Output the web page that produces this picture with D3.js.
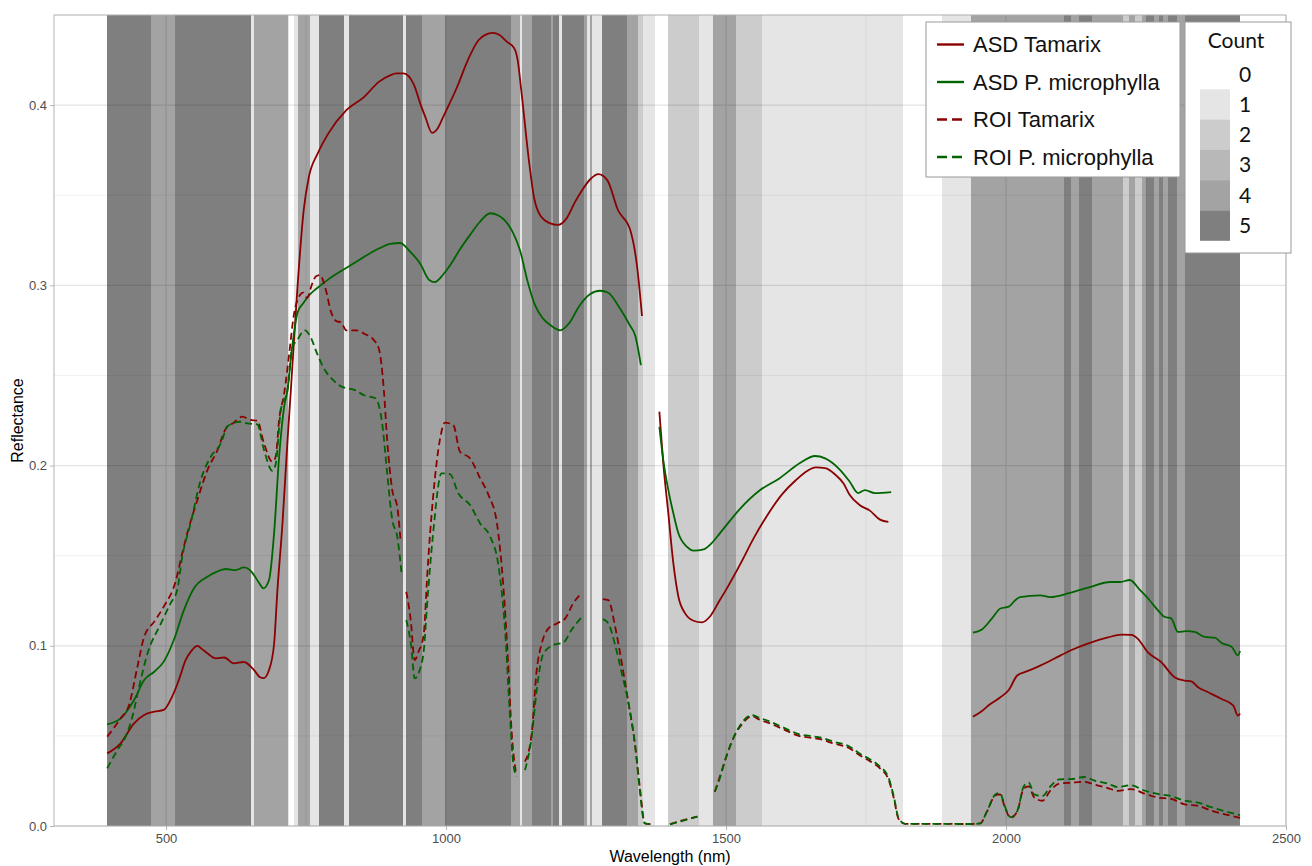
<!DOCTYPE html>
<html>
<head>
<meta charset="utf-8">
<script src="https://cdn.jsdelivr.net/npm/d3@7"></script>
<style>
  body { margin: 0; background: #fff; }
  text { font-family: "Liberation Sans", Arial, sans-serif; }
</style>
</head>
<body>
<div id="chart"></div>
<script>
// DATA
// ------------------------------------------------------------------

// band edges (nm) and how many images kept each band
var bandEdges = [394, 473, 516, 651, 657, 717, 720, 729, 736, 757, 773, 818, 827, 924, 928,
  958, 998, 1115.5, 1132, 1136, 1153, 1187.5, 1191.6, 1201.8, 1206.6, 1247, 1251, 1257,
  1260, 1278, 1322.7, 1342.3, 1352.4, 1373, 1397, 1452.4, 1477.3, 1517.9, 1563.8, 1816.6,
  1886.4, 1938.2, 2104, 2116, 2130, 2154, 2209, 2219, 2229.5, 2243, 2250, 2264, 2274,
  2280, 2289, 2305, 2320, 2418];
var bandCounts = [5, 4, 5, 1, 4, 1, 0, 1, 4, 1, 5, 1, 5, 1, 5, 4, 5, 4, 1, 4, 5, 4, 5, 1, 5,
  4, 1, 4, 1, 5, 4, 2, 1, 0, 2, 1, 4, 2, 1, 0, 1, 4, 5, 4, 5, 4, 2, 4, 2, 4, 5, 4, 5, 4,
  5, 4, 5];

var countLevels = [0, 1, 2, 3, 4, 5];

var seriesNames = ["ASD Tamarix", "ASD P. microphylla", "ROI Tamarix", "ROI P. microphylla"];

// [wavelength, reflectance], null = gap
var asdTamarix = [[395,0.0403],[419,0.0459],[443,0.057],[461,0.0616],[479,0.0634],[496,0.0644],
  [511,0.0718],[523,0.081],[535,0.092],[545,0.097],[556,0.0999],[565,0.098],[574,0.0958],
  [589,0.093],[604,0.0935],[621,0.0902],[639,0.091],[657,0.0866],[668,0.0825],[674,0.082],
  [684,0.0866],[693,0.101],[699,0.131],[708,0.168],[717,0.214],[723,0.242],[735,0.30],
  [746,0.342],[755,0.360],[771,0.3732],[790,0.3843],[822,0.3972],[854,0.4046],[880,0.4129],
  [900,0.4165],[911,0.4176],[924,0.4176],[943,0.4111],[955,0.400],[963,0.3935],[975,0.3846],
  [985,0.387],[995,0.3935],[1020,0.4102],[1039,0.425],[1058,0.436],[1070,0.439],[1084,0.4401],
  [1095,0.439],[1109,0.4351],[1122,0.4315],[1128,0.425],[1135,0.4065],[1148,0.3695],
  [1157,0.349],[1170,0.338],[1185,0.3345],[1200,0.3335],[1215,0.337],[1230,0.346],
  [1243,0.3528],[1258,0.359],[1272,0.3617],[1288,0.3584],[1307,0.3418],[1329,0.3307],
  [1341,0.311],[1350,0.283],
  null,
  [1381,0.2299],[1388,0.2012],[1397,0.1735],[1406,0.1457],[1415,0.1272],[1427,0.118],
  [1442,0.1139],[1457,0.113],[1471,0.1161],[1489,0.1254],[1500,0.131],[1525,0.145],
  [1550,0.16],[1575,0.173],[1600,0.184],[1625,0.192],[1645,0.197],[1660,0.199],[1677,0.1986],
  [1695,0.195],[1710,0.19],[1721,0.1836],[1739,0.178],[1757,0.175],[1775,0.17],[1790,0.1687],
  null,
  [1941,0.0607],[1954,0.0631],[1972,0.0677],[1990,0.0714],[2005,0.0755],[2020,0.0835],
  [2038,0.0859],[2062,0.0891],[2086,0.0928],[2116,0.0975],[2146,0.1012],[2182,0.1046],
  [2206,0.1062],[2224,0.106],[2235,0.104],[2253,0.0965],[2277,0.091],[2301,0.0826],
  [2319,0.0807],[2331,0.0803],[2343,0.077],[2361,0.0742],[2385,0.0705],[2406,0.0668],
  [2414,0.0612],[2418,0.0624]];

var asdMicrophylla = [[395,0.0564],[419,0.0597],[443,0.0699],[461,0.081],[479,0.0856],
  [496,0.0912],[514,0.1032],[532,0.1198],[550,0.1319],[574,0.1383],[590,0.141],[607,0.1426],
  [624,0.142],[639,0.1435],[650,0.142],[657,0.1393],[666,0.135],[674,0.1319],[684,0.1365],
  [693,0.1624],[702,0.2049],[711,0.2326],[717,0.242],[725,0.265],[735,0.285],[745,0.29],
  [757,0.295],[768,0.298],[793,0.304],[829,0.311],[860,0.317],[882,0.3207],[900,0.323],
  [918,0.3235],[935,0.319],[954,0.312],[970,0.303],[980,0.3018],[995,0.306],[1007,0.311],
  [1025,0.32],[1043,0.328],[1060,0.335],[1079,0.340],[1092,0.339],[1105,0.336],[1120,0.329],
  [1132,0.3196],[1145,0.303],[1159,0.289],[1172,0.282],[1186,0.278],[1204,0.275],[1220,0.279],
  [1239,0.289],[1257,0.295],[1275,0.297],[1289,0.296],[1311,0.287],[1328,0.278],[1338,0.272],
  [1348,0.2557],
  null,
  [1381,0.2215],[1388,0.203],[1397,0.1864],[1406,0.1735],[1415,0.1624],[1430,0.155],
  [1442,0.1528],[1460,0.1535],[1474,0.1568],[1489,0.1624],[1525,0.176],[1561,0.1864],
  [1596,0.193],[1632,0.2014],[1659,0.2053],[1677,0.204],[1704,0.1975],[1721,0.191],
  [1736,0.1847],[1748,0.1864],[1766,0.1847],[1795,0.1853],
  null,
  [1941,0.1073],[1957,0.109],[1975,0.1152],[1990,0.1207],[2005,0.1217],[2017,0.1254],
  [2025,0.127],[2061,0.128],[2079,0.127],[2114,0.1293],[2150,0.1326],[2186,0.1354],
  [2204,0.1354],[2221,0.1365],[2239,0.131],[2256,0.1254],[2271,0.1198],[2283,0.1161],
  [2295,0.1152],[2307,0.1077],[2322,0.1081],[2337,0.1077],[2355,0.1049],[2373,0.1045],
  [2385,0.1016],[2403,0.0994],[2414,0.0947],[2418,0.0971]];

var roiTamarix = [[395,0.0496],[419,0.0597],[434,0.0671],[449,0.0884],[461,0.105],[479,0.1134],
  [496,0.1217],[517,0.1355],[529,0.1513],[538,0.1624],[556,0.1809],[574,0.1975],[592,0.2086],
  [607,0.2206],[621,0.2238],[636,0.2271],[651,0.2253],[663,0.2249],[675,0.2123],[690,0.2021],
  [696,0.205],[702,0.2253],[711,0.24],[720,0.262],[728,0.283],[735,0.292],[745,0.296],
  [752,0.293],[760,0.3],[768,0.305],[775,0.3057],[785,0.298],[795,0.285],[805,0.28],
  [812,0.2796],[822,0.275],[840,0.275],[855,0.273],[870,0.27],[880,0.265],[889,0.242],
  [895,0.214],[904,0.1864],[913,0.1771],[919,0.1577],
  null,
  [929,0.130],[937,0.1143],[944,0.0921],[952,0.0976],[957,0.1013],[961,0.1087],[966,0.1365],
  [977,0.1827],[989,0.2141],[998,0.2238],[1013,0.2225],[1025,0.2077],[1043,0.204],
  [1061,0.1929],[1076,0.1836],[1091,0.1679],[1102,0.1346],[1111,0.0902],[1117,0.0533],
  [1125,0.0292],
  null,
  [1141,0.0357],[1153,0.0514],[1162,0.0865],[1171,0.1013],[1183,0.1097],[1198,0.1124],
  [1213,0.1152],[1227,0.1235],[1242,0.1291],
  null,
  [1280,0.1259],[1290,0.1253],[1302,0.1106],[1314,0.0902],[1326,0.068],[1338,0.044],
  [1346,0.0218],[1355,0.0015],[1370,0.001],
  null,
  [1400,0.001],[1424,0.0033],[1449,0.0052],
  null,
  [1480,0.019],[1489,0.0274],[1500,0.038],[1515,0.05],[1530,0.057],[1546,0.061],[1560,0.059],
  [1578,0.057],[1600,0.054],[1614,0.052],[1630,0.05],[1650,0.049],[1670,0.048],[1690,0.046],
  [1721,0.043],[1740,0.039],[1757,0.036],[1775,0.032],[1790,0.026],[1800,0.015],[1808,0.004],
  [1820,0.0012],[1864,0.0012],[1936,0.0011],[1954,0.0014],[1966,0.008],[1981,0.017],
  [1989,0.0175],[1999,0.0095],[2008,0.0045],[2020,0.008],[2032,0.021],[2041,0.022],
  [2050,0.016],[2065,0.014],[2080,0.02],[2095,0.0235],[2116,0.024],[2140,0.0245],[2158,0.023],
  [2182,0.021],[2200,0.0195],[2223,0.0205],[2247,0.018],[2271,0.0158],[2295,0.015],
  [2319,0.012],[2343,0.0112],[2367,0.0085],[2391,0.0065],[2418,0.0045]];

var roiMicrophylla = [[395,0.032],[413,0.042],[428,0.0496],[440,0.0607],[452,0.0773],
  [467,0.0958],[491,0.1124],[508,0.1235],[520,0.1309],[529,0.1494],[544,0.168],[562,0.192],
  [580,0.2049],[598,0.2123],[610,0.2219],[633,0.2243],[645,0.2234],[663,0.2228],[675,0.2086],
  [690,0.1971],[696,0.201],[705,0.2308],[717,0.242],[725,0.265],[735,0.27],[748,0.275],
  [757,0.272],[770,0.262],[780,0.255],[800,0.247],[812,0.244],[836,0.242],[854,0.239],
  [874,0.2373],[886,0.2234],[895,0.1957],[904,0.1698],[913,0.1605],[921,0.139],
  null,
  [929,0.1143],[938,0.0995],[944,0.0819],[953,0.0865],[961,0.0995],[966,0.1217],[977,0.1624],
  [992,0.1957],[1007,0.1953],[1022,0.1846],[1043,0.1781],[1061,0.1679],[1079,0.1605],
  [1094,0.1439],[1105,0.1106],[1114,0.0625],[1120,0.0348],[1126,0.0274],
  null,
  [1141,0.031],[1153,0.0495],[1162,0.0755],[1174,0.0958],[1192,0.1004],[1210,0.1019],
  [1224,0.1087],[1242,0.1158],
  null,
  [1280,0.1148],[1290,0.1124],[1302,0.1004],[1314,0.0847],[1326,0.068],[1338,0.044],
  [1346,0.02],[1355,0.0015],[1370,0.0009],
  null,
  [1400,0.0009],[1424,0.003],[1449,0.0052],
  null,
  [1480,0.019],[1489,0.0265],[1500,0.038],[1515,0.05],[1530,0.058],[1546,0.0615],[1560,0.06],
  [1578,0.058],[1600,0.055],[1614,0.053],[1630,0.051],[1650,0.05],[1670,0.049],[1690,0.047],
  [1721,0.044],[1740,0.04],[1757,0.037],[1775,0.033],[1790,0.027],[1800,0.016],[1808,0.0045],
  [1820,0.0012],[1864,0.0012],[1936,0.0011],[1954,0.0014],[1966,0.0082],[1981,0.0175],
  [1989,0.0184],[1999,0.0101],[2008,0.0049],[2020,0.0082],[2032,0.0222],[2041,0.024],
  [2050,0.0175],[2065,0.0166],[2080,0.0222],[2095,0.0259],[2116,0.026],[2140,0.0272],
  [2158,0.0252],[2182,0.0235],[2200,0.0216],[2223,0.0226],[2247,0.0197],[2271,0.0178],
  [2295,0.0166],[2319,0.0141],[2343,0.013],[2367,0.0104],[2391,0.0082],[2418,0.006]];

var xTicks = [500, 1000, 1500, 2000, 2500],
    xMinor = [750, 1250, 1750, 2250],
    yTicks = [0, 0.1, 0.2, 0.3, 0.4],
    yMinor = [0.05, 0.15, 0.25, 0.35, 0.45];

// CANVAS
// ------------------------------------------------------------------

var width = 1312,
    height = 866;

var svg = d3.select("#chart")
    .append("svg")
    .attr("width", width)
    .attr("height", height);

var panel = { left: 54, right: 1286, top: 15, bottom: 826 };

var xScale = d3.scaleLinear().domain([300, 2500]).range([panel.left, panel.right]),
    yScale = d3.scaleLinear().domain([0, 0.45]).range([panel.bottom, panel.top]);

// count -> alpha of the black band fill
var alphaScale = d3.scaleOrdinal().domain(countLevels).range([0, 0.1, 0.2, 0.28, 0.36, 0.5]);

var colour = d3.scaleOrdinal().domain(seriesNames)
    .range(["#8b0000", "#006400", "#8b0000", "#006400"]);
var dashes = d3.scaleOrdinal().domain(seriesNames)
    .range(["none", "none", "7,4", "7,4"]);

// GRID
// ------------------------------------------------------------------

var grid = svg.append("g");
grid.selectAll(".ymin").data(yMinor).enter().append("line")
    .attr("x1", panel.left).attr("x2", panel.right)
    .attr("y1", yScale).attr("y2", yScale)
    .attr("stroke", "#eeeeee").attr("stroke-width", 0.8);
grid.selectAll(".xmin").data(xMinor).enter().append("line")
    .attr("y1", panel.top).attr("y2", panel.bottom)
    .attr("x1", xScale).attr("x2", xScale)
    .attr("stroke", "#eeeeee").attr("stroke-width", 0.8);
grid.selectAll(".ymaj").data(yTicks).enter().append("line")
    .attr("x1", panel.left).attr("x2", panel.right)
    .attr("y1", yScale).attr("y2", yScale)
    .attr("stroke", "#e3e3e3").attr("stroke-width", 1.2);
grid.selectAll(".xmaj").data(xTicks).enter().append("line")
    .attr("y1", panel.top).attr("y2", panel.bottom)
    .attr("x1", xScale).attr("x2", xScale)
    .attr("stroke", "#e3e3e3").attr("stroke-width", 1.2);

// BANDS
// ------------------------------------------------------------------

var bands = bandCounts.map(function(c, i) {
  return { x0: bandEdges[i], x1: bandEdges[i + 1], count: c };
});

svg.append("g").selectAll("rect")
    .data(bands.filter(function(d) { return d.count > 0; }))
    .enter().append("rect")
    .attr("x", function(d) { return xScale(d.x0); })
    .attr("width", function(d) { return xScale(d.x1) - xScale(d.x0); })
    .attr("y", panel.top)
    .attr("height", panel.bottom - panel.top)
    .attr("fill", "#000")
    .attr("fill-opacity", function(d) { return alphaScale(d.count); })
    .attr("shape-rendering", "crispEdges");

// LINES
// ------------------------------------------------------------------

var lineFunction = d3.line()
    .defined(function(d) { return d !== null; })
    .x(function(d) { return xScale(d[0]); })
    .y(function(d) { return yScale(d[1]); })
    .curve(d3.curveMonotoneX);

var seriesData = [asdTamarix, asdMicrophylla, roiTamarix, roiMicrophylla];

svg.append("g").selectAll("path")
    .data(seriesNames)
    .enter().append("path")
    .attr("d", function(d, i) { return lineFunction(seriesData[i]); })
    .attr("fill", "none")
    .attr("stroke", colour)
    .attr("stroke-dasharray", dashes)
    .attr("stroke-width", 1.8);

// panel border
svg.append("rect")
    .attr("x", panel.left).attr("y", panel.top)
    .attr("width", panel.right - panel.left)
    .attr("height", panel.bottom - panel.top)
    .attr("fill", "none")
    .attr("stroke", "#b3b3b3")
    .attr("stroke-width", 1);

// AXES
// ------------------------------------------------------------------

var xAxis = d3.axisBottom(xScale).tickValues(xTicks).tickSize(4).tickPadding(4)
        .tickFormat(d3.format("d")),
    yAxis = d3.axisLeft(yScale).tickValues(yTicks).tickSize(4).tickPadding(3)
        .tickFormat(d3.format(".1f"));

var gx = svg.append("g")
    .attr("transform", "translate(0," + panel.bottom + ")")
    .call(xAxis);
var gy = svg.append("g")
    .attr("transform", "translate(" + panel.left + ",0)")
    .call(yAxis);

[gx, gy].forEach(function(g) {
  g.select(".domain").remove();
  g.selectAll(".tick line").attr("stroke", "#b3b3b3");
  g.selectAll(".tick text")
      .attr("fill", "#4d4d4d")
      .style("font-size", "13px")
      .style("font-family", "Liberation Sans, Arial, sans-serif");
});

svg.append("text")
    .attr("x", (panel.left + panel.right) / 2)
    .attr("y", 862)
    .attr("text-anchor", "middle")
    .style("font-size", "16px")
    .text("Wavelength (nm)");

svg.append("text")
    .attr("transform", "rotate(-90)")
    .attr("x", -(panel.top + panel.bottom) / 2)
    .attr("y", 23)
    .attr("text-anchor", "middle")
    .style("font-size", "16px")
    .text("Reflectance");

// LEGENDS
// ------------------------------------------------------------------

var leg = svg.append("g").attr("transform", "translate(926,22)");
leg.append("rect")
    .attr("width", 254).attr("height", 155)
    .attr("fill", "#fff").attr("stroke", "#999").attr("stroke-width", 1);

var legRow = leg.selectAll(".row").data(seriesNames).enter().append("g")
    .attr("transform", function(d, i) { return "translate(0," + (22.5 + i * 37.5) + ")"; });
legRow.append("line")
    .attr("x1", 11).attr("x2", 38)
    .attr("stroke", colour)
    .attr("stroke-dasharray", function(d) { return dashes(d) === "none" ? "none" : "10,5"; })
    .attr("stroke-width", 2.4);
legRow.append("text")
    .attr("x", 47).attr("dy", "0.35em")
    .style("font-size", "22px")
    .attr("fill", "#111")
    .text(function(d) { return d; });

var cleg = svg.append("g").attr("transform", "translate(1185,22)");
cleg.append("rect")
    .attr("width", 106).attr("height", 231)
    .attr("fill", "#fff").attr("stroke", "#999").attr("stroke-width", 1);
cleg.append("text")
    .attr("x", 51).attr("y", 26)
    .attr("text-anchor", "middle")
    .style("font-family", "Lato, 'Open Sans', sans-serif")
    .style("font-size", "21px")
    .attr("fill", "#111")
    .text("Count");

var keyH = 30.3;
cleg.selectAll(".key").data(countLevels).enter().append("rect")
    .attr("x", 15).attr("width", 30)
    .attr("y", function(d, i) { return 37 + i * keyH; })
    .attr("height", keyH)
    .attr("fill", "#000")
    .attr("fill-opacity", alphaScale);
cleg.selectAll(".klab").data(countLevels).enter().append("text")
    .attr("x", 54)
    .attr("y", function(d, i) { return 37 + (i + 0.5) * keyH; })
    .attr("dy", "0.35em")
    .style("font-family", "Lato, 'Open Sans', sans-serif")
    .style("font-size", "21px")
    .attr("fill", "#111")
    .text(function(d) { return d; });
</script>
</body>
</html>
